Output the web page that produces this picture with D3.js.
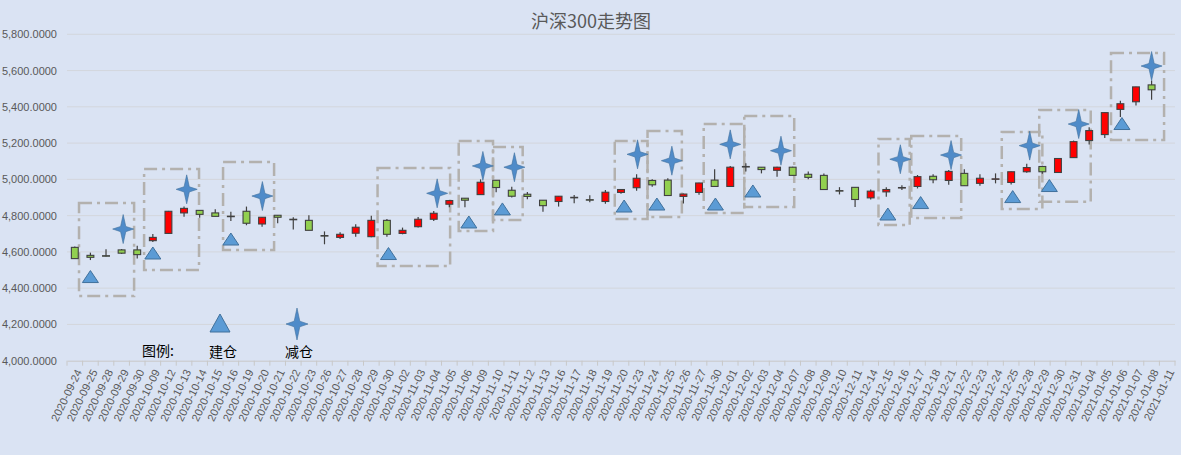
<!DOCTYPE html>
<html>
<head>
<meta charset="utf-8">
<script src="https://cdn.jsdelivr.net/npm/d3@7/dist/d3.min.js"></script>
<style>
    body { margin: 0; background: #dae3f3; }
    svg { display: block; font-family: "Liberation Sans", Arial, sans-serif; }
</style>
</head>
<body>
<div id="chart"></div>
<script>
const dates = [
    '2020-09-24', '2020-09-25', '2020-09-28', '2020-09-29', '2020-09-30', '2020-10-09', '2020-10-12', '2020-10-13',
    '2020-10-14', '2020-10-15', '2020-10-16', '2020-10-19', '2020-10-20', '2020-10-21', '2020-10-22', '2020-10-23',
    '2020-10-26', '2020-10-27', '2020-10-28', '2020-10-29', '2020-10-30', '2020-11-02', '2020-11-03', '2020-11-04',
    '2020-11-05', '2020-11-06', '2020-11-09', '2020-11-10', '2020-11-11', '2020-11-12', '2020-11-13', '2020-11-16',
    '2020-11-17', '2020-11-18', '2020-11-19', '2020-11-20', '2020-11-23', '2020-11-24', '2020-11-25', '2020-11-26',
    '2020-11-27', '2020-11-30', '2020-12-01', '2020-12-02', '2020-12-03', '2020-12-04', '2020-12-07', '2020-12-08',
    '2020-12-09', '2020-12-10', '2020-12-11', '2020-12-14', '2020-12-15', '2020-12-16', '2020-12-17', '2020-12-18',
    '2020-12-21', '2020-12-22', '2020-12-23', '2020-12-24', '2020-12-25', '2020-12-28', '2020-12-29', '2020-12-30',
    '2020-12-31', '2021-01-04', '2021-01-05', '2021-01-06', '2021-01-07', '2021-01-08', '2021-01-11'
];

const opens = [
    4625, 4581, 4579, 4611, 4611, 4662, 4702, 4815, 4829, 4815, 4797, 4824, 4754, 4802, 4780, 4774,
    4690, 4680, 4703, 4684, 4774, 4702, 4739, 4780, 4863, 4896, 4916, 4995, 4940, 4918, 4885, 4878,
    4899, 4888, 4878, 4928, 4954, 4994, 4996, 4906, 4928, 4996, 4961, 5071, 5067, 5050, 5067, 5028,
    5022, 4938, 4956, 4898, 4931, 4953, 4961, 5017, 4994, 5033, 4978, 5001, 4983, 5042, 5071, 5038,
    5120, 5214, 5247, 5386, 5428, 5521, null
];
const highs = [
    4630, 4596, 4614, 4616, 4634, 4699, 4826, 4850, 4830, 4835, 4822, 4850, 4793, 4803, 4791, 4802,
    4713, 4708, 4752, 4800, 4782, 4734, 4793, 4826, 4886, 4897, 5000, 4997, 4959, 4931, 4886, 4908,
    4914, 4912, 4942, 4947, 5028, 5000, 5006, 4922, 4981, 5056, 5074, 5089, 5068, 5070, 5069, 5043,
    5033, 4957, 4957, 4944, 4957, 4967, 5024, 5028, 5052, 5056, 5028, 5033, 5043, 5086, 5075, 5116,
    5214, 5287, 5369, 5433, 5511, 5545, null
];
const lows = [
    4563, 4555, 4574, 4589, 4563, 4655, 4700, 4794, 4789, 4796, 4770, 4747, 4739, 4758, 4724, 4719,
    4642, 4671, 4684, 4681, 4684, 4697, 4734, 4771, 4846, 4846, 4914, 4929, 4900, 4890, 4822, 4850,
    4868, 4874, 4866, 4920, 4937, 4959, 4911, 4867, 4915, 4959, 4958, 5044, 5033, 5015, 5022, 5000,
    4944, 4917, 4848, 4889, 4904, 4941, 4950, 4978, 4970, 4965, 4965, 4978, 4972, 5036, 5031, 5037,
    5119, 5192, 5228, 5344, 5408, 5439, null
];
const closes = [
    4563, 4570, 4577, 4593, 4585, 4680, 4824, 4840, 4807, 4796, 4795, 4758, 4791, 4791, 4778, 4719,
    4688, 4697, 4736, 4774, 4697, 4719, 4780, 4813, 4883, 4885, 4984, 4955, 4907, 4906, 4855, 4907,
    4901, 4886, 4929, 4944, 5006, 4970, 4911, 4919, 4980, 4961, 5067, 5069, 5054, 5067, 5022, 5011,
    4944, 4936, 4889, 4935, 4944, 4955, 5015, 4998, 5044, 4965, 5006, 5003, 5042, 5065, 5042, 5115,
    5208, 5269, 5368, 5417, 5510, 5494, null
];

// 建仓 / 减仓 markers: position on the date axis (index, may fall between days) and level
const buyIndex = [1, 5, 10, 20.1, 25.25, 27.4, 35.2, 37.3, 41.05, 43.45, 52.1, 54.2, 60.1, 62.45, 67.1];
const buyLevel = [4464, 4594, 4671, 4591, 4765, 4837, 4853, 4864, 4864, 4936, 4809, 4872, 4905, 4966, 5308];
const sellIndex = [3.1, 7.17, 12.02, 23.22, 26.15, 28.17, 36.06, 38.26, 42, 45.25, 52.9, 56.15, 61.19, 64.33, 69];
const sellLevel = [4726, 4945, 4908, 4923, 5074, 5067, 5138, 5103, 5193, 5158, 5111, 5134, 5186, 5305, 5625];

// dashed boxes round each trade: [from, to] on the date axis, [low, high] on the value axis
const boxFrom = [0.77, 4.94, 10.0, 19.9, 25.1, 27.3, 35.1, 37.2, 40.8, 43.4, 52.0, 54.1, 59.9, 62.3, 66.9];
const boxTo = [4.3, 8.46, 13.27, 24.55, 27.3, 29.2, 37.2, 39.4, 43.4, 46.6, 54.0, 57.3, 62.5, 65.6, 70.3];
const boxLow = [4357, 4500, 4611, 4522, 4715, 4776, 4781, 4792, 4815, 4848, 4748, 4787, 4837, 4876, 5217];
const boxHigh = [4870, 5057, 5096, 5063, 5212, 5179, 5212, 5267, 5305, 5350, 5223, 5239, 5261, 5383, 5697];

const yTicks = [4000, 4200, 4400, 4600, 4800, 5000, 5200, 5400, 5600, 5800];

const width = 1181;
const height = 455;
const plot = { left: 67, right: 1175, top: 34.3, bottom: 360.7 };

const svg = d3.select('#chart').append('svg')
    .attr('width', width)
    .attr('height', height);

svg.append('rect')
    .attr('width', width)
    .attr('height', height)
    .attr('fill', '#dae3f3');

const xScale = d3.scaleBand()
    .domain(dates)
    .range([plot.left, plot.right])
    .padding(0);

// same axis, but for positions that sit between two days
const xPos = d3.scaleLinear()
    .domain([0, dates.length])
    .range([plot.left, plot.right]);

const yScale = d3.scaleLinear()
    .domain([4000, 5800])
    .range([plot.bottom, plot.top]);

/**
 * Grid and axes
 */
svg.append('g')
    .selectAll('line')
    .data(yTicks.slice(1))
    .join('line')
    .attr('x1', plot.left)
    .attr('x2', plot.right)
    .attr('y1', d => yScale(d))
    .attr('y2', d => yScale(d))
    .attr('stroke', '#d3d6dc')
    .attr('stroke-width', 1);

const yAxis = svg.append('g')
    .attr('transform', `translate(${plot.left}, 0)`)
    .call(d3.axisLeft(yScale).tickValues(yTicks).tickFormat(d3.format(',.4f')).tickSize(0).tickPadding(10));
yAxis.select('.domain').remove();
yAxis.selectAll('text')
    .attr('fill', '#595959')
    .attr('font-size', 11);

const xAxis = svg.append('g')
    .attr('transform', `translate(0, ${plot.bottom})`)
    .call(d3.axisBottom(xScale).tickSize(0).tickFormat(''));
xAxis.select('.domain').attr('stroke', '#c8c8c8');

// tick marks sit on the day boundaries
xAxis.append('g')
    .selectAll('line')
    .data(d3.range(dates.length + 1))
    .join('line')
    .attr('x1', d => xPos(d))
    .attr('x2', d => xPos(d))
    .attr('y1', 0)
    .attr('y2', 5)
    .attr('stroke', '#c8c8c8');

svg.append('g')
    .selectAll('text')
    .data(dates)
    .join('text')
    .attr('transform', d => `translate(${xScale(d) + xScale.bandwidth() / 2 + 4}, 370) rotate(-64)`)
    .attr('text-anchor', 'end')
    .attr('dy', '0.35em')
    .attr('font-size', 11)
    .attr('fill', '#595959')
    .text(d => d);

/**
 * Dashed boxes
 */
svg.append('g')
    .selectAll('rect')
    .data(d3.range(boxFrom.length))
    .join('rect')
    .attr('x', i => xPos(boxFrom[i]))
    .attr('width', i => xPos(boxTo[i]) - xPos(boxFrom[i]))
    .attr('y', i => yScale(boxHigh[i]))
    .attr('height', i => yScale(boxLow[i]) - yScale(boxHigh[i]))
    .attr('fill', 'none')
    .attr('stroke', '#b3b1ae')
    .attr('stroke-width', 2.5)
    .attr('stroke-dasharray', '13,5,3,5');

/**
 * Candles
 */
const candles = d3.range(dates.length).filter(i => opens[i] !== null);
const bodyWidth = xScale.bandwidth() * 0.44;

const candle = svg.append('g')
    .selectAll('g')
    .data(candles)
    .join('g')
    .attr('transform', i => `translate(${xScale(dates[i]) + xScale.bandwidth() / 2}, 0)`);

candle.append('line')
    .attr('y1', i => yScale(highs[i]))
    .attr('y2', i => yScale(lows[i]))
    .attr('stroke', '#404040')
    .attr('stroke-width', 1.2);

candle.append('rect')
    .attr('x', -bodyWidth / 2)
    .attr('width', bodyWidth)
    .attr('y', i => yScale(Math.max(opens[i], closes[i])))
    .attr('height', i => Math.max(0.5, Math.abs(yScale(opens[i]) - yScale(closes[i]))))
    .attr('fill', i => closes[i] >= opens[i] ? '#ff0000' : '#92d050')
    .attr('stroke', '#404040')
    .attr('stroke-width', 1.1);

/**
 * Markers
 */
const triangle = (w, h) => `M0,${-h / 2} L${w / 2},${h / 2} L${-w / 2},${h / 2} Z`;
// thin four-point star
const star = (w, h, a) => `M0,${-h / 2} L${a},${-a} L${w / 2},0 L${a},${a} L0,${h / 2} `
    + `L${-a},${a} L${-w / 2},0 L${-a},${-a} Z`;

svg.append('g')
    .selectAll('path')
    .data(d3.range(buyIndex.length))
    .join('path')
    .attr('transform', i => `translate(${xPos(buyIndex[i] + 0.5)}, ${yScale(buyLevel[i])})`)
    .attr('d', triangle(16, 12))
    .attr('fill', '#5b9bd5')
    .attr('stroke', '#41719c')
    .attr('stroke-width', 1);

svg.append('g')
    .selectAll('path')
    .data(d3.range(sellIndex.length))
    .join('path')
    .attr('transform', i => `translate(${xPos(sellIndex[i] + 0.5)}, ${yScale(sellLevel[i])})`)
    .attr('d', star(21, 29, 2.6))
    .attr('fill', '#4f8bc9')
    .attr('stroke', '#41719c')
    .attr('stroke-width', 0.6);

/**
 * Title and legend
 */
svg.append('text')
    .attr('x', 591)
    .attr('y', 28)
    .attr('text-anchor', 'middle')
    .attr('font-family', '"Noto Sans CJK SC", sans-serif')
    .attr('font-size', 18)
    .attr('fill', '#595959')
    .text('沪深300走势图');

const legend = svg.append('g')
    .attr('font-family', '"Noto Sans CJK SC", sans-serif')
    .attr('font-size', 14)
    .attr('fill', '#000');

legend.append('text').attr('x', 142).attr('y', 356).text('图例:');
legend.append('path')
    .attr('transform', 'translate(220, 323)')
    .attr('d', triangle(20, 18))
    .attr('fill', '#5b9bd5')
    .attr('stroke', '#41719c');
legend.append('text').attr('x', 209).attr('y', 357).text('建仓');
legend.append('path')
    .attr('transform', 'translate(297, 324)')
    .attr('d', star(22, 32, 2.8))
    .attr('fill', '#4f8bc9')
    .attr('stroke', '#41719c')
    .attr('stroke-width', 0.6);
legend.append('text').attr('x', 285).attr('y', 357).text('减仓');
</script>
</body>
</html>
